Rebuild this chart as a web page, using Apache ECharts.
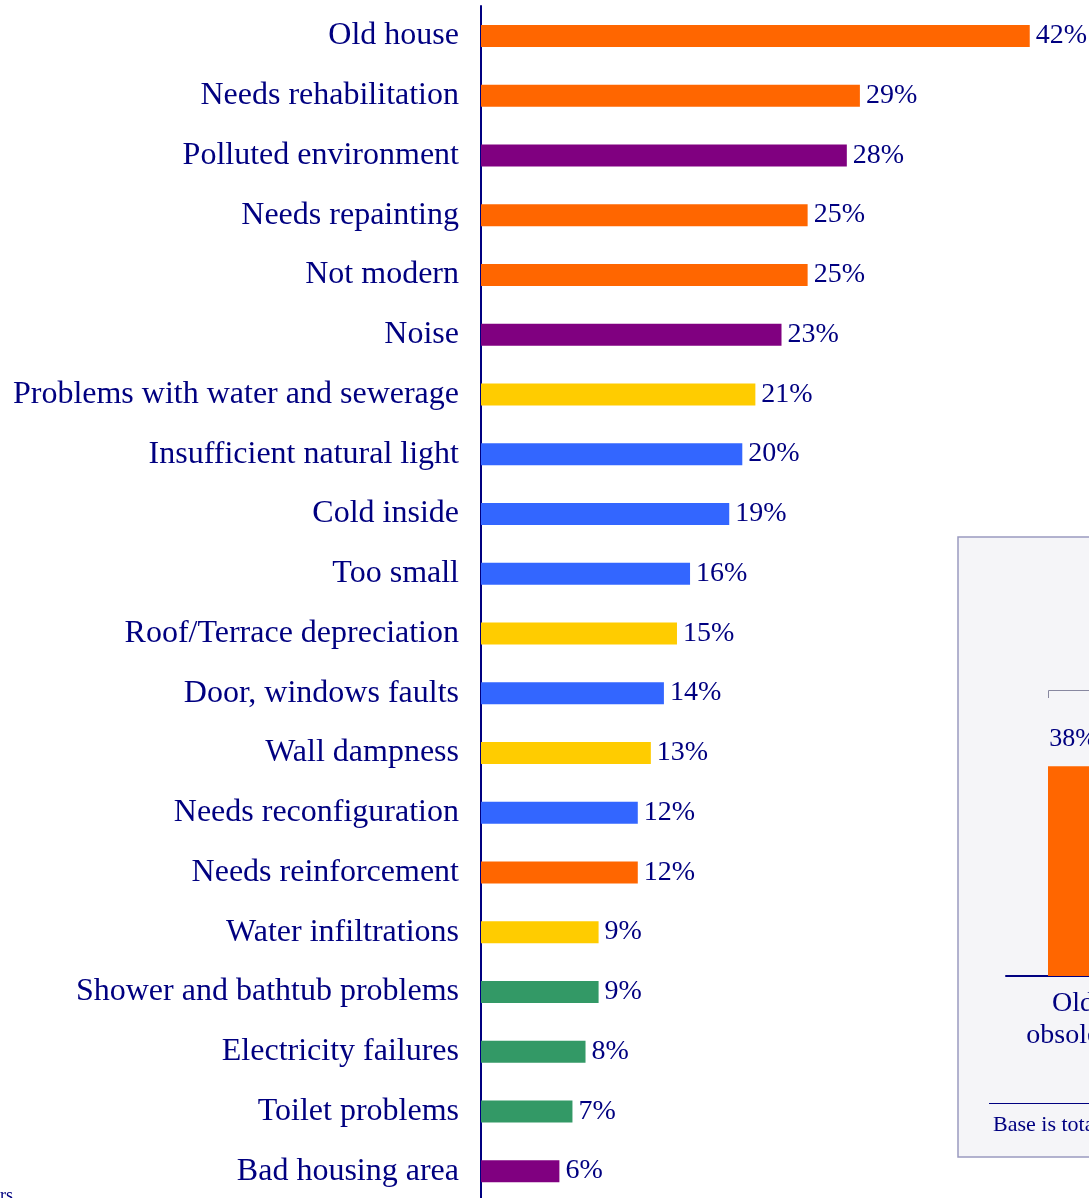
<!DOCTYPE html>
<html>
<head>
<meta charset="utf-8">
<script src="https://cdn.jsdelivr.net/npm/echarts@6/dist/echarts.min.js"></script>
<style>
  html, body { margin: 0; padding: 0; background: #fff; }
  #chart { width: 1089px; height: 1198px; }
</style>
</head>
<body>
<div id="chart"></div>
<script>
// main chart data
let categories = [
    'Old house', 'Needs rehabilitation', 'Polluted environment', 'Needs repainting',
    'Not modern', 'Noise', 'Problems with water and sewerage', 'Insufficient natural light',
    'Cold inside', 'Too small', 'Roof/Terrace depreciation', 'Door, windows faults',
    'Wall dampness', 'Needs reconfiguration', 'Needs reinforcement', 'Water infiltrations',
    'Shower and bathtub problems', 'Electricity failures', 'Toilet problems', 'Bad housing area'
];
let values = [42, 29, 28, 25, 25, 23, 21, 20, 19, 16, 15, 14, 13, 12, 12, 9, 9, 8, 7, 6];
let groups = [
    'structure', 'structure', 'environment', 'structure',
    'structure', 'environment', 'moisture', 'comfort',
    'comfort', 'comfort', 'moisture', 'comfort',
    'moisture', 'comfort', 'structure', 'moisture',
    'installations', 'installations', 'installations', 'environment'
];

// inset chart data (partly outside the picture)
let insetCategories = ['Old\nobsolete'];
let insetValues = [38];

let groupColors = {
    structure: '#ff6600',
    environment: '#800080',
    moisture: '#ffcc00',
    comfort: '#3366ff',
    installations: '#339966'
};

let navy = '#000080';
let serif = "'Liberation Serif', 'Times New Roman', serif";

var chart = echarts.init(document.getElementById('chart'));

let mainData = [];
for (let i = 0; i < values.length; i++) {
    mainData.push({
        value: values[i],
        itemStyle: { color: groupColors[groups[i]] }
    });
}

var options = {
    backgroundColor: '#ffffff',
    animation: false,
    graphic: [
        {
            type: 'rect',
            z: -10,
            shape: { x: 958, y: 537, width: 200, height: 620 },
            style: { fill: '#f5f5f8', stroke: '#9a9ac0', lineWidth: 1.5 }
        },
        {
            type: 'polyline',
            z: -5,
            shape: { points: [[1048.5, 698], [1048.5, 690.5], [1095, 690.5]] },
            style: { stroke: '#8888a0', lineWidth: 1, fill: null }
        },
        {
            type: 'line',
            z: -5,
            shape: { x1: 989, y1: 1103.5, x2: 1095, y2: 1103.5 },
            style: { stroke: navy, lineWidth: 1 }
        },
        {
            type: 'text',
            x: 993,
            y: 1125,
            style: {
                text: 'Base is total sample',
                font: "22px " + serif,
                fill: navy,
                verticalAlign: 'middle'
            }
        },
        {
            type: 'text',
            x: 0,
            y: 1187,
            style: {
                text: 'rs',
                font: "18px " + serif,
                fill: navy
            }
        }
    ],
    grid: [
        { left: 481, top: 6, width: 601, height: 1195, outerBoundsMode: 'none', containLabel: false },
        { left: 1006, top: 700, width: 134, height: 276, outerBoundsMode: 'none', containLabel: false }
    ],
    xAxis: [
        {
            gridIndex: 0,
            type: 'value',
            min: 0,
            max: 46,
            show: false
        },
        {
            gridIndex: 1,
            type: 'category',
            data: insetCategories,
            axisLine: { lineStyle: { color: navy, width: 2 } },
            axisTick: { show: false },
            axisLabel: {
                color: navy,
                fontFamily: serif,
                fontSize: 28,
                lineHeight: 32,
                margin: 12
            }
        }
    ],
    yAxis: [
        {
            gridIndex: 0,
            type: 'category',
            inverse: true,
            data: categories,
            axisLine: { lineStyle: { color: navy, width: 2 } },
            axisTick: { show: false },
            axisLabel: {
                color: navy,
                fontFamily: serif,
                fontSize: 32,
                margin: 22
            }
        },
        {
            gridIndex: 1,
            type: 'value',
            min: 0,
            max: 50,
            show: false
        }
    ],
    series: [
        {
            type: 'bar',
            xAxisIndex: 0,
            yAxisIndex: 0,
            barWidth: 22,
            data: mainData,
            label: {
                show: true,
                position: 'right',
                distance: 6,
                formatter: '{c}%',
                color: navy,
                fontFamily: serif,
                fontSize: 28
            }
        },
        {
            type: 'bar',
            xAxisIndex: 1,
            yAxisIndex: 1,
            barWidth: 50,
            itemStyle: { color: '#ff6600' },
            data: insetValues,
            label: {
                show: true,
                position: 'top',
                distance: 14,
                formatter: '{c}%',
                color: navy,
                fontFamily: serif,
                fontSize: 26
            }
        }
    ]
};

chart.setOption(options);
</script>
</body>
</html>
